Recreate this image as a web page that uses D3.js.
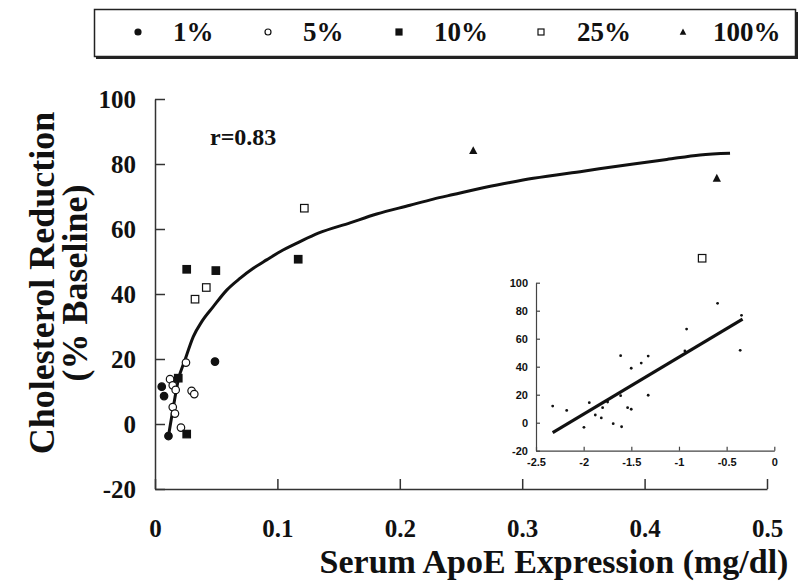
<!DOCTYPE html>
<html>
<head>
<meta charset="utf-8">
<script src="https://cdn.jsdelivr.net/npm/d3@7/dist/d3.min.js"></script>
<style>
  body { margin: 0; background: #fff; }
  svg { display: block; }
</style>
</head>
<body>
<div id="chart"></div>
<script>
// Main plot data: [ApoE mg/dl, % reduction]
var dose1 = [[0.0055, 11.5], [0.0074, 8.6], [0.0110, -3.7], [0.0490, 19.2]];
var dose5 = [[0.0253, 18.9], [0.0123, 13.8], [0.0145, 11.9], [0.0169, 10.5], [0.0299, 10.2],
             [0.0321, 9.2], [0.0145, 5.2], [0.0163, 3.2], [0.0212, -1.1]];
var dose10 = [[0.0259, 47.6], [0.0497, 47.2], [0.0190, 14.1], [0.0259, -3.1], [0.117, 50.7]];
var dose25 = [[0.0419, 42.0], [0.0327, 38.4], [0.122, 66.4], [0.447, 51.0]];
var dose100 = [[0.260, 84.1], [0.459, 75.6]];

// Fitted curve
var fitCurve = [[0.0109, -3.9], [0.0150, 5.3], [0.0190, 13.5], [0.0245, 19.7], [0.0313, 26.9],
  [0.0382, 31.5], [0.0476, 36.1], [0.0586, 41.2], [0.0694, 44.8], [0.0803, 47.9],
  [0.0912, 50.5], [0.1021, 53.0], [0.1185, 56.1], [0.1334, 58.7], [0.1593, 61.9],
  [0.1811, 64.6], [0.2083, 67.3], [0.2274, 69.2], [0.2437, 70.6], [0.2710, 72.9],
  [0.2900, 74.3], [0.3091, 75.6], [0.3499, 77.8], [0.3908, 80.0], [0.4181, 81.4],
  [0.4453, 82.8], [0.4698, 83.3]];

// Inset data: [log10 ApoE, % reduction]
var insetPoints = [[-2.325, 11.9], [-2.178, 8.8], [-1.997, -3.3], [-1.941, 14.3], [-1.878, 5.5],
  [-1.815, 3.4], [-1.801, 10.7], [-1.749, 14.8], [-1.690, -0.7], [-1.612, 47.9],
  [-1.612, 19.3], [-1.602, -2.9], [-1.539, 10.7], [-1.501, 38.9], [-1.501, 9.6],
  [-1.396, 42.6], [-1.323, 47.6], [-1.323, 19.6], [-0.920, 66.9], [-0.938, 51.2],
  [-0.595, 85.3], [-0.344, 76.7], [-0.358, 51.7]];
var insetLine = [[-2.325, -7.1], [-0.333, 74.0]];

var xTicks = [0, 0.1, 0.2, 0.3, 0.4, 0.5];
var yTicks = [-20, 0, 20, 40, 60, 80, 100];
var insetXTicks = [-2.5, -2, -1.5, -1, -0.5, 0];
var insetYTicks = [-20, 0, 20, 40, 60, 80, 100];
var legendLabels = ["1%", "5%", "10%", "25%", "100%"];

var serif = '"Liberation Serif", "Times New Roman", serif';
var sans = '"Liberation Sans", Arial, sans-serif';

var svgWidth = 801;
var svgHeight = 583;

var svg = d3.select("#chart")
  .append("svg")
  .attr("width", svgWidth)
  .attr("height", svgHeight);

// Scales for the main plot
var x = d3.scaleLinear().domain([0, 0.5]).range([155, 767]);
var y = d3.scaleLinear().domain([-20, 100]).range([489, 99]);

// Y axis (ticks pointing inward)
var yAxis = svg.append("g")
  .attr("transform", "translate(155,0)")
  .call(d3.axisLeft(y).tickValues(yTicks).tickSizeInner(-10).tickSizeOuter(0)
    .tickPadding(19).tickFormat(d => String(d)));

var xAxis = svg.append("g")
  .attr("transform", "translate(0,489)")
  .call(d3.axisBottom(x).tickValues(xTicks).tickSizeInner(-10).tickSizeOuter(0)
    .tickPadding(30).tickFormat(d => d === 0 ? "0" : d3.format(".1f")(d)));

[xAxis, yAxis].forEach(function(a) {
  a.attr("font-family", serif);
  a.selectAll("path, line").attr("stroke", "#333").attr("stroke-width", 1.5);
  a.selectAll("text")
    .style("font-family", serif)
    .style("font-weight", "bold")
    .style("font-size", "25px")
    .attr("fill", "#111");
});

// Small helper for bold serif labels
function label(parent, txt, size) {
  return parent.append("text")
    .style("font-family", serif)
    .style("font-weight", "bold")
    .style("font-size", size + "px")
    .attr("fill", "#111")
    .text(txt);
}

// Axis titles
label(svg, "Serum ApoE Expression (mg/dl)", 34)
  .attr("x", 554)
  .attr("y", 573)
  .attr("text-anchor", "middle");

var yTitle = svg.append("g")
  .attr("transform", "translate(41,283) rotate(-90)");
label(yTitle, "Cholesterol Reduction", 36)
  .attr("text-anchor", "middle")
  .attr("dy", "0.35em");
label(yTitle, "(% Baseline)", 36)
  .attr("text-anchor", "middle")
  .attr("y", 33)
  .attr("dy", "0.35em");

label(svg, "r=0.83", 24)
  .attr("x", 210)
  .attr("y", 145);

// Fitted curve
svg.append("path")
  .datum(fitCurve)
  .attr("fill", "none")
  .attr("stroke", "#111")
  .attr("stroke-width", 3)
  .attr("stroke-linejoin", "round")
  .attr("d", d3.line().x(d => x(d[0])).y(d => y(d[1])).curve(d3.curveMonotoneX));

// Marker drawing helper
function drawMarker(g, kind, cx, cy, s) {
  if (kind === "dot" || kind === "ring") {
    g.append("circle")
      .attr("cx", cx).attr("cy", cy).attr("r", s / 2)
      .attr("fill", kind === "dot" ? "#111" : "#fff")
      .attr("stroke", "#111").attr("stroke-width", 1.2);
  } else if (kind === "square" || kind === "box") {
    g.append("rect")
      .attr("x", cx - s / 2).attr("y", cy - s / 2).attr("width", s).attr("height", s)
      .attr("fill", kind === "square" ? "#111" : "#fff")
      .attr("stroke", "#111").attr("stroke-width", 1.2);
  } else {
    g.append("path")
      .attr("d", `M${cx},${cy - s * 0.6}L${cx + s * 0.55},${cy + s * 0.45}L${cx - s * 0.55},${cy + s * 0.45}Z`)
      .attr("fill", "#111");
  }
}

var series = [
  { data: dose1, kind: "dot" },
  { data: dose5, kind: "ring" },
  { data: dose10, kind: "square" },
  { data: dose25, kind: "box" },
  { data: dose100, kind: "tri" }
];

var points = svg.append("g");
series.forEach(function(s) {
  s.data.forEach(function(d) {
    drawMarker(points, s.kind, x(d[0]), y(d[1]), 7.5);
  });
});

// Inset chart
var ix = d3.scaleLinear().domain([-2.5, 0]).range([536, 774.3]);
var iy = d3.scaleLinear().domain([-20, 100]).range([450.7, 282.7]);

var iyAxis = svg.append("g")
  .attr("transform", "translate(536,0)")
  .call(d3.axisLeft(iy).tickValues(insetYTicks).tickSizeInner(-4).tickSizeOuter(0)
    .tickPadding(8).tickFormat(d => String(d)));
var ixAxis = svg.append("g")
  .attr("transform", "translate(0,450.7)")
  .call(d3.axisBottom(ix).tickValues(insetXTicks).tickSizeInner(-4).tickSizeOuter(0)
    .tickPadding(8).tickFormat(d => String(d)));
[ixAxis, iyAxis].forEach(function(a) {
  a.selectAll("path, line").attr("stroke", "#444").attr("stroke-width", 1.2);
  a.selectAll("text")
    .style("font-family", sans)
    .style("font-weight", "bold")
    .style("font-size", "11px")
    .attr("fill", "#111");
});

svg.append("g").selectAll("circle")
  .data(insetPoints)
  .enter()
  .append("circle")
  .attr("cx", d => ix(d[0]))
  .attr("cy", d => iy(d[1]))
  .attr("r", 1.4)
  .attr("fill", "#111");

svg.append("path")
  .datum(insetLine)
  .attr("fill", "none")
  .attr("stroke", "#111")
  .attr("stroke-width", 3.2)
  .attr("d", d3.line().x(d => ix(d[0])).y(d => iy(d[1])));

// Legend box with shadow
var legend = svg.append("g");
legend.append("rect")
  .attr("x", 96).attr("y", 12).attr("width", 702).attr("height", 47)
  .attr("fill", "#222");
legend.append("rect")
  .attr("x", 94.5).attr("y", 9.5).attr("width", 701).attr("height", 47)
  .attr("fill", "#fff").attr("stroke", "#222").attr("stroke-width", 1.5);

var legendMarkX = [138, 268, 399, 541, 683];
var legendTextX = [173, 303, 434, 577, 713];
var legendKinds = ["dot", "ring", "square", "box", "tri"];
legendLabels.forEach(function(lab, i) {
  drawMarker(legend, legendKinds[i], legendMarkX[i], 32, 6);
  label(legend, lab, 27)
    .attr("x", legendTextX[i])
    .attr("y", 32)
    .attr("dy", "0.35em");
});
</script>
</body>
</html>
